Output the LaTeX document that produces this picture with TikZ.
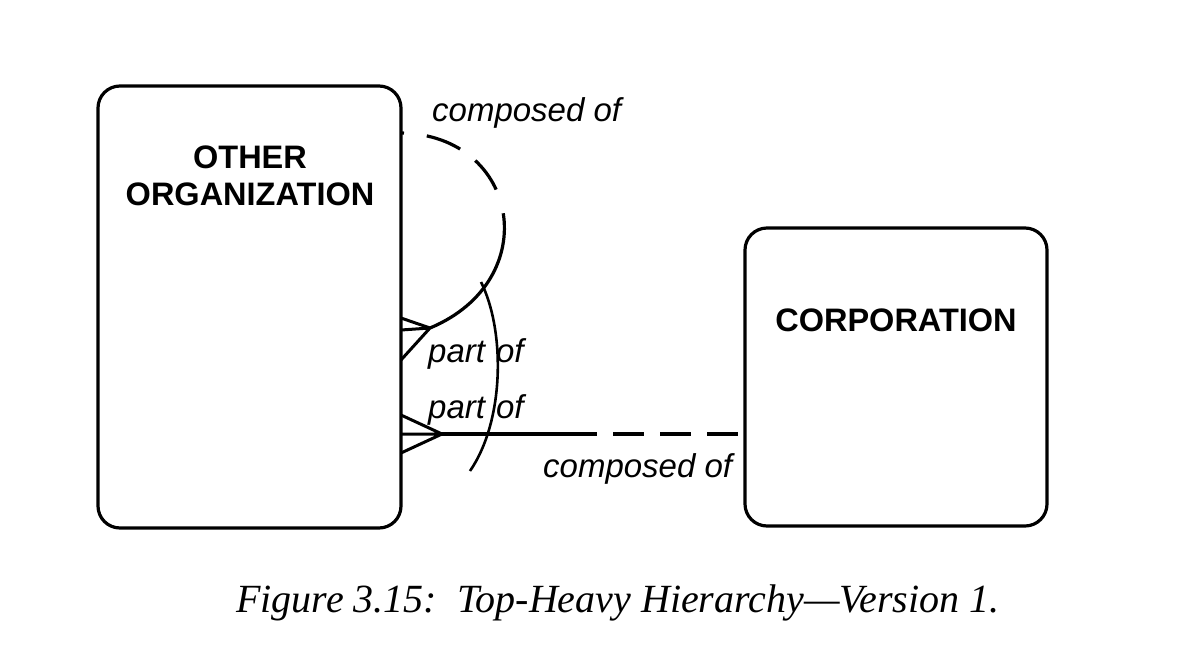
\documentclass[tikz,border=0pt]{standalone}
\usepackage{fontspec}
\setmainfont{Liberation Sans}
\newfontfamily\capfont[Ligatures=TeX]{Liberation Serif}
\begin{document}
\begin{tikzpicture}[x=1pt,y=-1pt,
  entity/.style={draw,line width=3.2pt,rounded corners=22pt,inner sep=0pt},
  ename/.style={font=\fontsize{32.5}{37}\selectfont\bfseries,align=center,inner sep=0pt},
  rlabel/.style={font=\fontsize{33}{36}\selectfont\itshape,inner sep=0pt},
  rel/.style={line width=3.2pt},
  foot/.style={line width=3pt}
]
\useasboundingbox (0,0) rectangle (1196,664);
\fill[white] (0,0) rectangle (1196,664);

% entities
\node[entity,minimum width=303pt,minimum height=442pt] (oo) at (249.5,307) {};
\node[entity,minimum width=302pt,minimum height=298pt] (corp) at (896,377) {};
\node[ename] (ooname) at (250,176) {OTHER\\ORGANIZATION};
\node[ename] (corpname) at (896,320) {CORPORATION};

% recursive relationship
\coordinate (r0) at (401,133);
\coordinate (rm) at (503.25,213.25);
\coordinate (ra) at (430,328);
\coordinate (rt1) at (401,318);
\coordinate (rt2) at (401,330);
\coordinate (rt3) at (401,360);
\draw[rel,dash pattern=on 3pt off 23pt on 36pt off 19pt on 36pt off 30pt] (r0) .. controls (460.5,134) and (496.5,170.75) .. (rm);
\draw[rel] (rm) .. controls (510,255.75) and (487.5,304) .. (ra);
\draw[foot] (rt1) -- (ra) (rt2) -- (ra) (rt3) -- (ra);

% corporation relationship
\coordinate (ca) at (442,434);
\coordinate (cm) at (597,434);
\coordinate (ct1) at (401,415);
\coordinate (ct2) at (401,434);
\coordinate (ct3) at (401,453);
\coordinate (ce) at (corp.west |- ca);
\draw[rel] (ca) -- (cm);
\draw[rel,dash pattern=on 0pt off 16pt on 31pt off 16pt on 31pt off 16pt on 31pt off 50pt] (cm) -- (ce);
\draw[foot] (ct1) -- (ca) (ct2) -- (ca) (ct3) -- (ca);

% exclusivity arc
\coordinate (x0) at (481,282);
\coordinate (x1) at (470,471);
\draw[line width=2.6pt] (x0) .. controls (505,330) and (505,420) .. (x1);

% labels
\node[rlabel,anchor=west] (l1) at (432,113) {composed of};
\node[rlabel,anchor=west] (l2) at (428,354) {part\hspace{11pt}of};
\node[rlabel,anchor=west] (l3) at (428,410) {part\hspace{11pt}of};
\node[rlabel,anchor=west] (l4) at (543,469) {composed of};

% caption
\node[font=\capfont\fontsize{40}{42}\selectfont\itshape,inner sep=0pt] (cap) at (618,603) {Figure 3.15:\ \ Top-Heavy Hierarchy---Version 1.};
\end{tikzpicture}
\end{document}
